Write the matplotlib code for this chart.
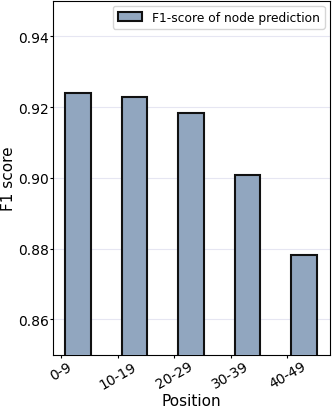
import matplotlib
matplotlib.use('Agg')
import matplotlib.pyplot as plt
import numpy as np

positions = ['0-9', '10-19', '20-29', '30-39', '40-49']
f1_scores = [0.9240, 0.9228, 0.9183, 0.9008, 0.8782]

fig = plt.figure(figsize=(3.32, 4.10), dpi=100)
ax = fig.add_axes([52.7 / 332, 1 - 355.7 / 410, (329.5 - 52.7) / 332, (355.7 - 2) / 410])

x = np.arange(len(positions))
width = 0.45
ax.bar(x + 0.3, f1_scores, width, color='#91a6bf', edgecolor='#111111',
       linewidth=1.5, label='F1-score of node prediction', zorder=3)

ax.set_ylim(0.85, 0.95)
ax.set_yticks([0.86, 0.88, 0.90, 0.92, 0.94])
ax.set_xticks(x)
ax.set_xticklabels(positions, rotation=30, ha='center', fontsize=10)
ax.tick_params(axis='both', labelsize=10, length=2.5, pad=0.5)
ax.grid(axis='y', color='#e6e6f2', linewidth=0.8, zorder=0)

ax.set_xlabel('Position', fontsize=11, labelpad=1)
ax.set_ylabel('F1 score', fontsize=11, labelpad=1)
ax.legend(loc='upper right', fontsize=8.8, borderaxespad=0.4)

fig.savefig('out.png', dpi=100)
